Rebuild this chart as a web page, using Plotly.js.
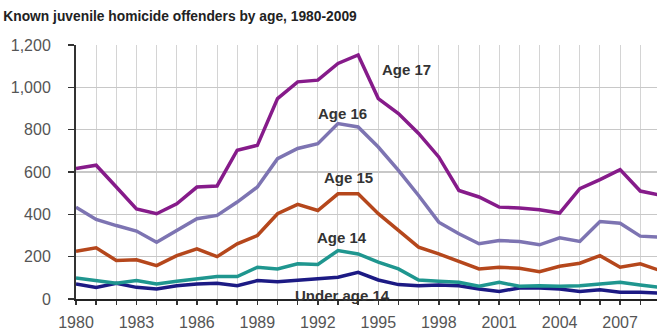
<!DOCTYPE html>
<html>
<head>
<meta charset="utf-8">
<script src="https://cdn.plot.ly/plotly-3.0.1.min.js"></script>
<style>
  html, body { margin: 0; padding: 0; background: #ffffff; }
  #chart { width: 657px; height: 332px; }
</style>
</head>
<body>
<div id="chart"></div>
<script>
const years = [1980,1981,1982,1983,1984,1985,1986,1987,1988,1989,1990,1991,1992,1993,1994,1995,1996,1997,1998,1999,2000,2001,2002,2003,2004,2005,2006,2007,2008,2009];

const age17 = [616,632,529,426,403,450,529,534,703,726,947,1026,1034,1113,1153,947,876,782,671,513,482,434,430,422,406,521,564,611,510,490];
const age16 = [434,376,347,321,268,324,379,395,458,529,663,711,734,829,813,718,608,489,363,308,261,276,272,256,289,272,366,358,297,292];
const age15 = [226,242,182,185,158,205,237,200,261,300,403,447,418,497,497,403,324,245,213,177,142,150,145,129,155,169,205,150,166,134];
const age14 = [99,87,74,87,71,84,95,106,106,150,142,166,163,229,213,174,142,90,84,79,60,79,60,63,60,63,71,79,66,55];
const under14 = [71,55,74,55,47,63,71,74,63,87,82,90,96,103,126,90,68,63,66,63,47,36,52,52,47,36,44,32,32,27];

const seriesNames = ["Under age 14","Age 14","Age 15","Age 16","Age 17"];
const seriesData = [under14, age14, age15, age16, age17];
const seriesColors = ["#1c1a84","#1f968f","#b5471c","#7d74b2","#861b8a"];

const xTickVals = [1980,1983,1986,1989,1992,1995,1998,2001,2004,2007];
const yTickVals = [0,200,400,600,800,1000,1200];
const yTickText = ["0","200","400","600","800","1,000","1,200"];

const labels = [
  {text:"Age 17", x:1996.4, y:1082},
  {text:"Age 16", x:1993.2, y:877},
  {text:"Age 15", x:1993.5, y:575},
  {text:"Age 14", x:1993.2, y:290},
  {text:"Under age 14", x:1993.2, y:16}
];

const traces = seriesData.map((d, i) => ({
  x: years, y: d, type: "scatter", mode: "lines", name: seriesNames[i],
  line: {color: seriesColors[i], width: 3.5},
  hoverinfo: "skip"
}));

const layout = {
  width: 657, height: 332,
  margin: {l: 76, r: 0, t: 45, b: 33, pad: 0},
  paper_bgcolor: "#ffffff", plot_bgcolor: "#ffffff",
  showlegend: false,
  font: {family: "Liberation Sans, Arial, sans-serif", color: "#555555"},
  title: {
    text: "<b>Known juvenile homicide offenders by age, 1980-2009</b>",
    font: {size: 13.8, color: "#222222", family: "Liberation Sans, Arial, sans-serif"},
    xref: "container", yref: "container", x: 0.005, xanchor: "left", y: 0.95, yanchor: "middle"
  },
  xaxis: {
    range: [1980, 2008.83],
    tickmode: "array", tickvals: xTickVals, ticktext: xTickVals.map(String),
    ticks: "outside", ticklen: 4, tickcolor: "#333333", tickwidth: 1.5,
    ticklabelstandoff: 4,
    tickfont: {size: 16, color: "#555555"},
    showgrid: true, gridcolor: "#d4d4d4", gridwidth: 1,
    minor: {dtick: 1, tick0: 1980, showgrid: true, gridcolor: "#d4d4d4", gridwidth: 1, ticks: "outside", ticklen: 4, tickcolor: "#333333"},
    showline: true, linecolor: "#222222", linewidth: 2,
    zeroline: false, fixedrange: true
  },
  yaxis: {
    range: [0, 1200],
    tickmode: "array", tickvals: yTickVals, ticktext: yTickText,
    ticks: "outside", ticklen: 6, tickcolor: "#333333", tickwidth: 1.5,
    ticklabelstandoff: 14,
    tickfont: {size: 16, color: "#555555"},
    showgrid: true, gridcolor: "#c8c8c8", gridwidth: 1.5,
    showline: true, linecolor: "#333333", linewidth: 2,
    zeroline: false, fixedrange: true
  },
  annotations: labels.map(l => ({
    text: "<b>" + l.text + "</b>", x: l.x, y: l.y, xref: "x", yref: "y",
    showarrow: false, font: {size: 15, color: "#333333"}, xanchor: "center", yanchor: "middle"
  }))
};

Plotly.newPlot("chart", traces, layout, {displayModeBar: false, staticPlot: true});
</script>
</body>
</html>
